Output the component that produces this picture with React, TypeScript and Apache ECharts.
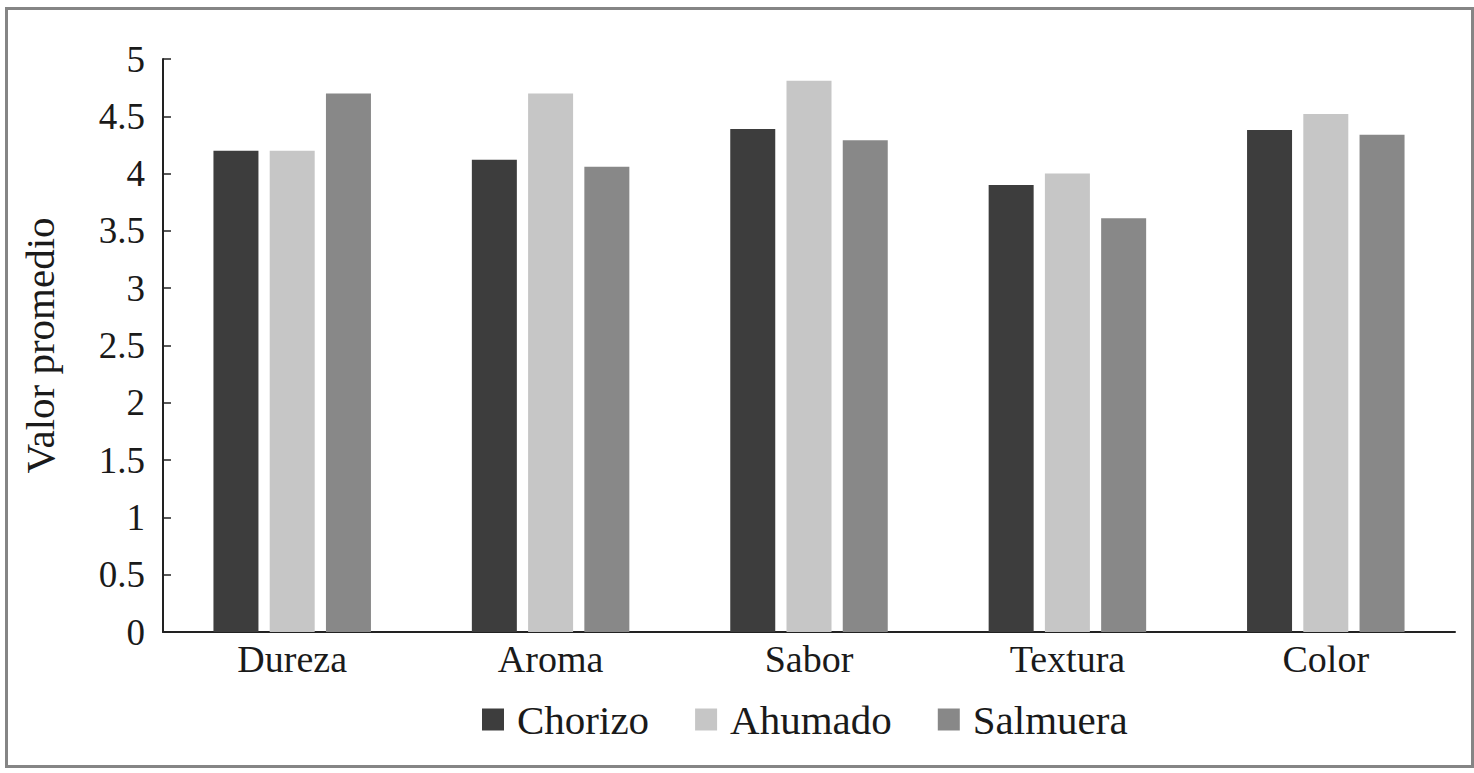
import React, { useEffect, useRef } from 'react';
import * as echarts from 'echarts';

const categories = ['Dureza', 'Aroma', 'Sabor', 'Textura', 'Color'];
const chorizo = [4.2, 4.12, 4.39, 3.9, 4.38];
const ahumado = [4.2, 4.7, 4.81, 4.0, 4.52];
const salmuera = [4.7, 4.06, 4.29, 3.61, 4.34];
const yTicks = { min: 0, max: 5, interval: 0.5 };

const FONT = '"Liberation Serif", "Times New Roman", serif';

const App: React.FC = () => {
  const chartRef = useRef<HTMLDivElement>(null);

  useEffect(() => {
    if (!chartRef.current) return;
    const chart = echarts.init(chartRef.current, undefined, { renderer: 'svg' });

    const option: echarts.EChartsOption = {
      animation: false,
      textStyle: { fontFamily: FONT, color: '#1a1a1a' },
      graphic: [
        {
          type: 'rect',
          shape: { x: 6.5, y: 8.5, width: 1466, height: 758 },
          style: { fill: 'none', stroke: '#858585', lineWidth: 3 },
          silent: true
        }
      ],
      grid: { left: 163, right: 19, top: 59, bottom: 141, outerBoundsMode: 'none' } as any,
      legend: {
        bottom: 28,
        left: 477,
        itemWidth: 22,
        itemHeight: 22,
        itemGap: 46,
        icon: 'rect',
        textStyle: { fontFamily: FONT, fontSize: 41, color: '#1a1a1a', padding: [0, 0, 0, 8] },
        data: ['Chorizo', 'Ahumado', 'Salmuera']
      },
      xAxis: {
        type: 'category',
        data: categories,
        axisLine: { lineStyle: { color: '#222', width: 2 } },
        axisTick: { inside: true, length: 7, lineStyle: { color: '#222', width: 1.5 } },
        axisLabel: { fontFamily: FONT, fontSize: 38, color: '#1a1a1a', margin: 8 },
        splitLine: { show: false }
      },
      yAxis: {
        type: 'value',
        min: yTicks.min,
        max: yTicks.max,
        interval: yTicks.interval,
        name: 'Valor promedio',
        nameLocation: 'middle',
        nameRotate: 90,
        nameGap: 103,
        nameTextStyle: { fontFamily: FONT, fontSize: 41, color: '#1a1a1a' },
        axisLine: { show: true, lineStyle: { color: '#222', width: 2 } },
        axisTick: { show: true, inside: true, length: 8, lineStyle: { color: '#222', width: 1.5 } },
        axisLabel: { fontFamily: FONT, fontSize: 37, color: '#1a1a1a', margin: 18 },
        splitLine: { show: false }
      },
      series: [
        { name: 'Chorizo', type: 'bar', data: chorizo, barWidth: 45, barGap: '25%', itemStyle: { color: '#3d3d3d' } },
        { name: 'Ahumado', type: 'bar', data: ahumado, barWidth: 45, barGap: '25%', itemStyle: { color: '#c6c6c6' } },
        { name: 'Salmuera', type: 'bar', data: salmuera, barWidth: 45, barGap: '25%', itemStyle: { color: '#888888' } }
      ]
    };

    chart.setOption(option);
    return () => {
      chart.dispose();
    };
  }, []);

  return (
    <div
      ref={chartRef}
      style={{ position: 'absolute', left: 0, top: 0, width: '1474px', height: '773px', background: '#fff' }}
    />
  );
};

export default App;
